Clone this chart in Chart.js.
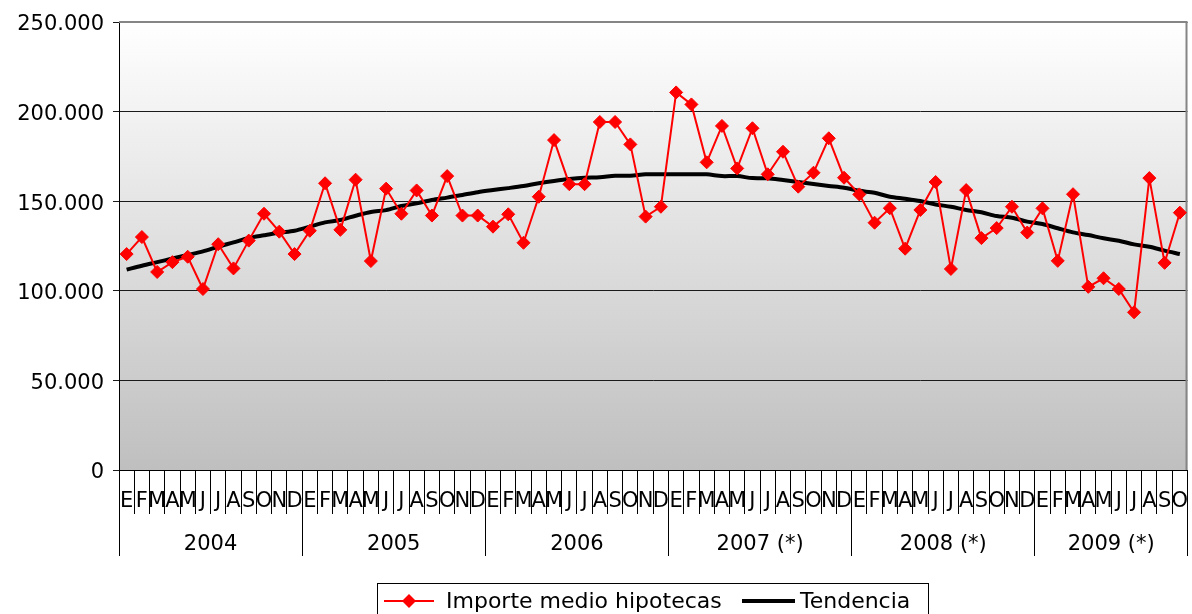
<!DOCTYPE html>
<html><head><meta charset="utf-8">
<script src="https://cdn.jsdelivr.net/npm/chart.js@4.4.1/dist/chart.umd.min.js"></script>
<style>html,body{margin:0;padding:0;background:#fff;overflow:hidden;width:1192px;height:614px;}canvas{display:block;}</style>
</head><body>
<canvas id="c" width="1195" height="614"></canvas>
<script>
const monthLetters = ['E','F','M','A','M','J','J','A','S','O','N','D'];
const years = ['2004','2005','2006','2007 (*)','2008 (*)','2009 (*)'];
const monthsPerYear = [12,12,12,12,12,10];
const yTickValues = [0,50000,100000,150000,200000,250000];

const importeMedio = [
  120500,130000,110500,116000,119000,101000,126000,112500,128000,143000,133000,120500,
  133500,160000,134000,162000,116600,157000,143000,156000,142000,164000,142000,142000,
  135800,142700,126800,152500,184100,159500,159500,194200,194200,181700,141400,146900,
  210700,204000,171700,192000,168300,190700,165000,177600,158100,165900,185100,163100,
  153800,138000,146100,123500,145100,160700,112200,156200,129400,135000,146900,132500,
  146000,116700,153900,102200,107000,101000,88000,162900,115600,143600
];
const tendencia = [
  111800,114000,116000,118000,120000,122000,124600,127000,129500,131000,132400,133500,
  135800,138200,139500,141900,144000,145000,147300,148800,150700,152000,153500,155000,
  156200,157300,158500,160000,161300,162400,163100,163300,164200,164200,165000,165000,
  165000,165000,165000,164000,164000,162900,162800,161800,160700,159600,158500,157500,
  155800,154700,152500,151400,150100,148200,146900,145100,143800,141700,140800,138600,
  137300,134900,132600,131100,129300,127900,125900,124600,122400,120500
];

const categories = [];
monthsPerYear.forEach(n => { for (let i = 0; i < n; i++) categories.push(monthLetters[i]); });
const yearBounds = [0];
monthsPerYear.forEach(n => yearBounds.push(yearBounds[yearBounds.length - 1] + n));
const yearCenters = years.map((y, i) => (yearBounds[i] + yearBounds[i + 1]) / 2);

const FONT = "'DejaVu Sans', Verdana, sans-serif";

const bgPlugin = {
  id: 'bg',
  beforeDraw(chart) {
    const {ctx, chartArea: a} = chart;
    const g = ctx.createLinearGradient(0, a.top, 0, a.bottom);
    g.addColorStop(0, '#ffffff');
    g.addColorStop(1, '#bfbfbf');
    ctx.save();
    ctx.fillStyle = g;
    ctx.fillRect(a.left, a.top, a.right - a.left, a.bottom - a.top);
    ctx.restore();
  },
  beforeDatasetsDraw(chart) {
    const {ctx, chartArea: a} = chart;
    ctx.save();
    ctx.strokeStyle = '#858585';
    ctx.lineWidth = 2;
    ctx.beginPath();
    ctx.moveTo(a.left, a.top);
    ctx.lineTo(a.right - 1, a.top);
    ctx.lineTo(a.right - 1, a.bottom);
    ctx.stroke();
    ctx.restore();
  }
};

const legendPlugin = {
  id: 'customLegend',
  afterDraw(chart) {
    const ctx = chart.ctx;
    const y = 601;
    ctx.save();
    ctx.strokeStyle = '#000';
    ctx.lineWidth = 1;
    ctx.strokeRect(377.5, 583.5, 551, 40);
    ctx.strokeStyle = '#ff0000';
    ctx.lineWidth = 2;
    ctx.beginPath(); ctx.moveTo(384, y); ctx.lineTo(434, y); ctx.stroke();
    ctx.fillStyle = '#ff0000';
    ctx.beginPath();
    ctx.moveTo(409, y - 7); ctx.lineTo(416, y); ctx.lineTo(409, y + 7); ctx.lineTo(402, y);
    ctx.closePath(); ctx.fill();
    ctx.strokeStyle = '#000';
    ctx.lineWidth = 4;
    ctx.beginPath(); ctx.moveTo(742, y); ctx.lineTo(795, y); ctx.stroke();
    ctx.fillStyle = '#000';
    ctx.font = '22px ' + FONT;
    ctx.textBaseline = 'middle';
    ctx.textAlign = 'left';
    ctx.fillText(chart.data.datasets[0].label, 446, y + 1);
    ctx.fillText(chart.data.datasets[1].label, 800, y + 1);
    ctx.restore();
  }
};

function fmt(v) {
  if (v === 0) return '0';
  const s = String(Math.round(v));
  return s.replace(/\B(?=(\d{3})+(?!\d))/g, '.');
}

new Chart(document.getElementById('c'), {
  type: 'line',
  data: {
    labels: categories,
    datasets: [
      {
        label: 'Importe medio hipotecas',
        data: importeMedio,
        borderColor: '#ff0000',
        backgroundColor: '#ff0000',
        borderWidth: 2,
        pointStyle: 'rectRot',
        pointRadius: 6.5,
        pointBorderWidth: 1,
        pointBackgroundColor: '#ff0000',
        pointBorderColor: '#ff0000',
        tension: 0,
        order: 1
      },
      {
        label: 'Tendencia',
        data: tendencia,
        borderColor: '#000000',
        borderWidth: 4,
        pointRadius: 0,
        tension: 0.3,
        order: 2
      }
    ]
  },
  options: {
    responsive: false,
    animation: false,
    layout: { padding: { top: 22, right: 2, bottom: 58, left: 0 } },
    plugins: { legend: { display: false }, tooltip: { enabled: false } },
    scales: {
      x: {
        type: 'category',
        position: 'bottom',
        offset: true,
        weight: 0,
        afterFit: s => { s.height = 44; s.paddingLeft = 0; s.paddingRight = 0; },
        grid: { offset: true, drawOnChartArea: false, drawTicks: true, tickLength: 44, color: '#000', lineWidth: 1 },
        border: { display: true, color: '#000', width: 1 },
        ticks: { autoSkip: false, maxRotation: 0, minRotation: 0, padding: -25, color: '#000', font: { family: FONT, size: 21 } }
      },
      x2: {
        type: 'linear',
        position: 'bottom',
        min: 0,
        max: yearBounds[yearBounds.length - 1],
        weight: 1,
        afterFit: s => { s.height = 42; s.paddingLeft = 0; s.paddingRight = 0; },
        afterBuildTicks: s => {
          const vals = yearBounds.concat(yearCenters).sort((a, b) => a - b);
          s.ticks = vals.map(v => ({ value: v }));
        },
        grid: {
          drawOnChartArea: false, drawTicks: true, tickLength: 42, lineWidth: 1,
          color: c => (c.tick && yearBounds.includes(c.tick.value)) ? '#000' : 'rgba(0,0,0,0)'
        },
        border: { display: false },
        ticks: {
          autoSkip: false, maxRotation: 0, minRotation: 0, padding: -24, color: '#000',
          font: { family: FONT, size: 21 },
          callback: v => { const i = yearCenters.indexOf(v); return i >= 0 ? years[i] : ''; }
        }
      },
      y: {
        min: 0,
        max: 250000,
        afterFit: s => { s.width = 119; },
        afterBuildTicks: s => { s.ticks = yTickValues.map(v => ({ value: v })); },
        grid: { color: '#1a1a1a', lineWidth: 1, drawTicks: true, tickLength: 6 },
        border: { display: true, color: '#000', width: 1 },
        ticks: { padding: 9, labelOffset: 3, color: '#000', font: { family: FONT, size: 21 }, callback: v => fmt(v) }
      }
    }
  },
  plugins: [bgPlugin, legendPlugin]
});
</script>
</body></html>
